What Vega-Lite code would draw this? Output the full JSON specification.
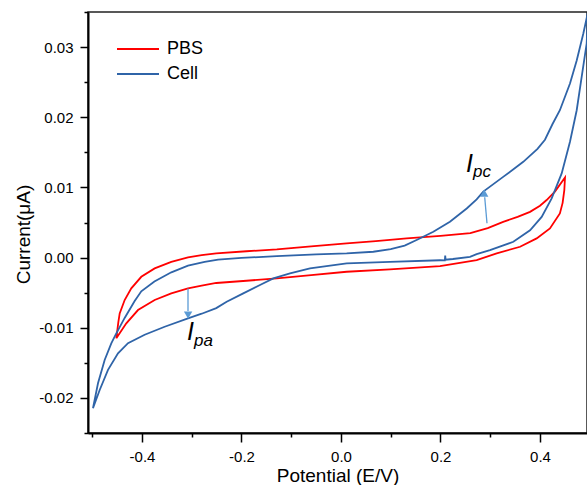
{
  "$schema": "https://vega.github.io/schema/vega-lite/v6.json",
  "autosize": {"type": "none"},
  "width": 499,
  "height": 421,
  "padding": {"left": 88, "top": 12, "right": 0, "bottom": 52},
  "background": "white",
  "config": {
    "font": "Liberation Sans",
    "view": {"stroke": "#222222", "strokeWidth": 1.5},
    "axis": {"grid": false, "domainColor": "black", "domainWidth": 2, "tickColor": "black", "tickWidth": 1.5, "labelColor": "black", "titleColor": "black", "titleFontWeight": "normal", "labelFont": "Liberation Sans", "titleFont": "Liberation Sans", "labelOverlap": false, "labelFlush": false}
  },
  "resolve": {"axis": {"y": "independent"}},
  "datasets": {
    "curves": [
      {"s":"PBS","i":0,"x":-0.4516,"y":-0.0115},
      {"s":"PBS","i":1,"x":-0.4475,"y":-0.0092},
      {"s":"PBS","i":2,"x":-0.4448,"y":-0.00795},
      {"s":"PBS","i":3,"x":-0.4348,"y":-0.00605},
      {"s":"PBS","i":4,"x":-0.4215,"y":-0.00439},
      {"s":"PBS","i":5,"x":-0.4014,"y":-0.00274},
      {"s":"PBS","i":6,"x":-0.3745,"y":-0.00154},
      {"s":"PBS","i":7,"x":-0.3411,"y":-0.0006},
      {"s":"PBS","i":8,"x":-0.3075,"y":0.00003},
      {"s":"PBS","i":9,"x":-0.28,"y":0.00035},
      {"s":"PBS","i":10,"x":-0.2507,"y":0.0006},
      {"s":"PBS","i":11,"x":-0.19,"y":0.0009},
      {"s":"PBS","i":12,"x":-0.129,"y":0.00117},
      {"s":"PBS","i":13,"x":-0.06,"y":0.0016},
      {"s":"PBS","i":14,"x":0.0114,"y":0.00202},
      {"s":"PBS","i":15,"x":0.07,"y":0.00235},
      {"s":"PBS","i":16,"x":0.132,"y":0.00273},
      {"s":"PBS","i":17,"x":0.2,"y":0.0031},
      {"s":"PBS","i":18,"x":0.26,"y":0.00348},
      {"s":"PBS","i":19,"x":0.295,"y":0.0042},
      {"s":"PBS","i":20,"x":0.326,"y":0.0051},
      {"s":"PBS","i":21,"x":0.355,"y":0.0058},
      {"s":"PBS","i":22,"x":0.38,"y":0.00652},
      {"s":"PBS","i":23,"x":0.4,"y":0.0074},
      {"s":"PBS","i":24,"x":0.4134,"y":0.0082},
      {"s":"PBS","i":25,"x":0.43,"y":0.0094},
      {"s":"PBS","i":26,"x":0.4503,"y":0.01142},
      {"s":"PBS","i":27,"x":0.4489,"y":0.0096},
      {"s":"PBS","i":28,"x":0.4455,"y":0.0078},
      {"s":"PBS","i":29,"x":0.44,"y":0.0063},
      {"s":"PBS","i":30,"x":0.42,"y":0.00416},
      {"s":"PBS","i":31,"x":0.3933,"y":0.00273},
      {"s":"PBS","i":32,"x":0.36,"y":0.00154},
      {"s":"PBS","i":33,"x":0.313,"y":0.0006},
      {"s":"PBS","i":34,"x":0.2727,"y":-0.00036},
      {"s":"PBS","i":35,"x":0.199,"y":-0.00121},
      {"s":"PBS","i":36,"x":0.0985,"y":-0.00168},
      {"s":"PBS","i":37,"x":0.0114,"y":-0.00202},
      {"s":"PBS","i":38,"x":-0.06,"y":-0.0025},
      {"s":"PBS","i":39,"x":-0.129,"y":-0.00296},
      {"s":"PBS","i":40,"x":-0.19,"y":-0.0033},
      {"s":"PBS","i":41,"x":-0.2507,"y":-0.00362},
      {"s":"PBS","i":42,"x":-0.28,"y":-0.0040},
      {"s":"PBS","i":43,"x":-0.3075,"y":-0.00439},
      {"s":"PBS","i":44,"x":-0.3411,"y":-0.0051},
      {"s":"PBS","i":45,"x":-0.3745,"y":-0.00605},
      {"s":"PBS","i":46,"x":-0.408,"y":-0.00748},
      {"s":"PBS","i":47,"x":-0.4315,"y":-0.00937},
      {"s":"PBS","i":48,"x":-0.4516,"y":-0.0115},
      {"s":"Cell","i":0,"x":-0.4985,"y":-0.02148},
      {"s":"Cell","i":1,"x":-0.4884,"y":-0.01792},
      {"s":"Cell","i":2,"x":-0.475,"y":-0.0146},
      {"s":"Cell","i":3,"x":-0.4617,"y":-0.01222},
      {"s":"Cell","i":4,"x":-0.4516,"y":-0.0108},
      {"s":"Cell","i":5,"x":-0.4348,"y":-0.0086},
      {"s":"Cell","i":6,"x":-0.4147,"y":-0.0062},
      {"s":"Cell","i":7,"x":-0.4014,"y":-0.0048},
      {"s":"Cell","i":8,"x":-0.375,"y":-0.0034},
      {"s":"Cell","i":9,"x":-0.341,"y":-0.0021},
      {"s":"Cell","i":10,"x":-0.3075,"y":-0.00115},
      {"s":"Cell","i":11,"x":-0.274,"y":-0.0006},
      {"s":"Cell","i":12,"x":-0.247,"y":-0.00028},
      {"s":"Cell","i":13,"x":-0.2,"y":-0.00005},
      {"s":"Cell","i":14,"x":-0.129,"y":0.0002},
      {"s":"Cell","i":15,"x":-0.05,"y":0.00045},
      {"s":"Cell","i":16,"x":0.0114,"y":0.0006},
      {"s":"Cell","i":17,"x":0.065,"y":0.00083},
      {"s":"Cell","i":18,"x":0.1,"y":0.0012},
      {"s":"Cell","i":19,"x":0.128,"y":0.0017},
      {"s":"Cell","i":20,"x":0.152,"y":0.0025},
      {"s":"Cell","i":21,"x":0.1856,"y":0.00368},
      {"s":"Cell","i":22,"x":0.219,"y":0.0051},
      {"s":"Cell","i":23,"x":0.2527,"y":0.007},
      {"s":"Cell","i":24,"x":0.2727,"y":0.0083},
      {"s":"Cell","i":25,"x":0.286,"y":0.0094},
      {"s":"Cell","i":26,"x":0.326,"y":0.0115},
      {"s":"Cell","i":27,"x":0.3664,"y":0.01365},
      {"s":"Cell","i":28,"x":0.395,"y":0.0155},
      {"s":"Cell","i":29,"x":0.41,"y":0.0168},
      {"s":"Cell","i":30,"x":0.425,"y":0.019},
      {"s":"Cell","i":31,"x":0.44,"y":0.021},
      {"s":"Cell","i":32,"x":0.4603,"y":0.0248},
      {"s":"Cell","i":33,"x":0.4738,"y":0.0281},
      {"s":"Cell","i":34,"x":0.487,"y":0.0319},
      {"s":"Cell","i":35,"x":0.4938,"y":0.0341},
      {"s":"Cell","i":36,"x":0.497,"y":0.0352},
      {"s":"Cell","i":37,"x":0.4938,"y":0.0305},
      {"s":"Cell","i":38,"x":0.4838,"y":0.02575},
      {"s":"Cell","i":39,"x":0.4738,"y":0.021},
      {"s":"Cell","i":40,"x":0.4603,"y":0.0165},
      {"s":"Cell","i":41,"x":0.4436,"y":0.012},
      {"s":"Cell","i":42,"x":0.4235,"y":0.00843},
      {"s":"Cell","i":43,"x":0.4034,"y":0.0058},
      {"s":"Cell","i":44,"x":0.38,"y":0.0039},
      {"s":"Cell","i":45,"x":0.3464,"y":0.00225},
      {"s":"Cell","i":46,"x":0.2995,"y":0.00107},
      {"s":"Cell","i":47,"x":0.2727,"y":0.0005},
      {"s":"Cell","i":48,"x":0.2593,"y":0.0001},
      {"s":"Cell","i":49,"x":0.225,"y":-0.0002},
      {"s":"Cell","i":50,"x":0.2102,"y":-0.0003},
      {"s":"Cell","i":51,"x":0.2095,"y":0.0003},
      {"s":"Cell","i":52,"x":0.2088,"y":-0.0004},
      {"s":"Cell","i":53,"x":0.199,"y":-0.00038},
      {"s":"Cell","i":54,"x":0.0985,"y":-0.0006},
      {"s":"Cell","i":55,"x":0.0114,"y":-0.00083},
      {"s":"Cell","i":56,"x":-0.0623,"y":-0.00154},
      {"s":"Cell","i":57,"x":-0.1025,"y":-0.00225},
      {"s":"Cell","i":58,"x":-0.136,"y":-0.00296},
      {"s":"Cell","i":59,"x":-0.1628,"y":-0.0039},
      {"s":"Cell","i":60,"x":-0.1964,"y":-0.0051},
      {"s":"Cell","i":61,"x":-0.2298,"y":-0.0063},
      {"s":"Cell","i":62,"x":-0.2507,"y":-0.0072},
      {"s":"Cell","i":63,"x":-0.28,"y":-0.0080},
      {"s":"Cell","i":64,"x":-0.3075,"y":-0.00866},
      {"s":"Cell","i":65,"x":-0.3544,"y":-0.00986},
      {"s":"Cell","i":66,"x":-0.3946,"y":-0.011},
      {"s":"Cell","i":67,"x":-0.4281,"y":-0.0122},
      {"s":"Cell","i":68,"x":-0.4482,"y":-0.01365},
      {"s":"Cell","i":69,"x":-0.4683,"y":-0.016},
      {"s":"Cell","i":70,"x":-0.485,"y":-0.01887},
      {"s":"Cell","i":71,"x":-0.4985,"y":-0.02148}
    ],
    "arrows": [
      {"x":0.2935,"y":0.0049,"x2":0.2889,"y2":0.0086},
      {"x":-0.3075,"y":-0.0044,"x2":-0.3075,"y2":-0.0076}
    ],
    "heads": [
      {"x":0.2879,"y":0.0092,"dir":"up"},
      {"x":-0.3073,"y":-0.0082,"dir":"down"}
    ],
    "bigI": [
      {"x":0.2513,"y":0.01218,"t":"I"},
      {"x":-0.3095,"y":-0.01175,"t":"I"}
    ],
    "subs": [
      {"x":0.2653,"y":0.01147,"t":"pc"},
      {"x":-0.2955,"y":-0.0126,"t":"pa"}
    ]
  },
  "layer": [
    {
      "data": {"name": "curves"},
      "mark": {"type": "line", "strokeWidth": 1.8, "clip": true},
      "encoding": {
        "x": {
          "field": "x", "type": "quantitative",
          "scale": {"domain": [-0.5085, 0.4945], "nice": false, "zero": false},
          "axis": {
            "values": [-0.5,-0.4,-0.3,-0.2,-0.1,0,0.1,0.2,0.3,0.4],
            "title": "Potential (E/V)",
            "titleFontSize": 19,
            "titlePadding": 2,
            "labelFontSize": 15,
            "labelPadding": 7,
            "tickSize": {"condition": {"test": "abs(datum.value*5 - round(datum.value*5)) < 0.001", "value": 9}, "value": 4},
            "labelExpr": "abs(datum.value*5 - round(datum.value*5)) < 0.001 ? (datum.value < -0.001 ? '-' : '') + format(abs(datum.value), '.1f') : ''"
          }
        },
        "y": {
          "field": "y", "type": "quantitative",
          "scale": {"domain": [-0.025, 0.035], "nice": false, "zero": false},
          "axis": {
            "values": [-0.02,-0.01,0,0.01,0.02,0.03],
            "title": "Current(μA)",
            "titleFontSize": 19,
            "titlePadding": 5,
            "titleY": 222,
            "labelFontSize": 15,
            "labelPadding": 7,
            "tickSize": 8,
            "labelExpr": "(datum.value < -0.0001 ? '-' : '') + format(abs(datum.value), '.2f')"
          }
        },
        "color": {
          "field": "s", "type": "nominal",
          "scale": {"domain": ["PBS", "Cell"], "range": ["#FF0000", "#2F64A8"]},
          "legend": {
            "title": null, "orient": "none", "legendX": 28, "legendY": 26,
            "symbolType": "stroke", "symbolSize": 1764, "symbolStrokeWidth": 2,
            "labelFontSize": 18, "labelOffset": 7, "clipHeight": 22, "rowPadding": 3,
            "padding": 0, "labelFont": "Liberation Sans", "labelColor": "black"
          }
        },
        "order": {"field": "i", "type": "quantitative"},
        "detail": {"field": "s", "type": "nominal"}
      }
    },
    {
      "data": {"name": "arrows"},
      "mark": {"type": "rule", "color": "#5B9BD5", "strokeWidth": 1.3},
      "encoding": {
        "x": {"field": "x", "type": "quantitative"},
        "y": {"field": "y", "type": "quantitative", "axis": {"values": [-0.025,-0.015,-0.005,0.005,0.015,0.025,0.035], "orient": "left", "labels": false, "domain": false, "title": null, "tickSize": 4, "grid": false}},
        "x2": {"field": "x2"},
        "y2": {"field": "y2"}
      }
    },
    {
      "data": {"name": "heads"},
      "mark": {"type": "point", "filled": true, "color": "#5B9BD5", "size": 70, "opacity": 1},
      "encoding": {
        "x": {"field": "x", "type": "quantitative"},
        "y": {"field": "y", "type": "quantitative", "axis": null},
        "shape": {"field": "dir", "type": "nominal", "scale": {"domain": ["up", "down"], "range": ["triangle-up", "triangle-down"]}, "legend": null}
      }
    },
    {
      "data": {"name": "bigI"},
      "mark": {"type": "text", "fontSize": 25, "fontStyle": "italic", "font": "Liberation Sans", "align": "left", "baseline": "alphabetic", "color": "black"},
      "encoding": {
        "x": {"field": "x", "type": "quantitative"},
        "y": {"field": "y", "type": "quantitative", "axis": null},
        "text": {"field": "t"}
      }
    },
    {
      "data": {"name": "subs"},
      "mark": {"type": "text", "fontSize": 17, "fontStyle": "italic", "font": "Liberation Sans", "align": "left", "baseline": "alphabetic", "color": "black"},
      "encoding": {
        "x": {"field": "x", "type": "quantitative"},
        "y": {"field": "y", "type": "quantitative", "axis": null},
        "text": {"field": "t"}
      }
    }
  ]
}
